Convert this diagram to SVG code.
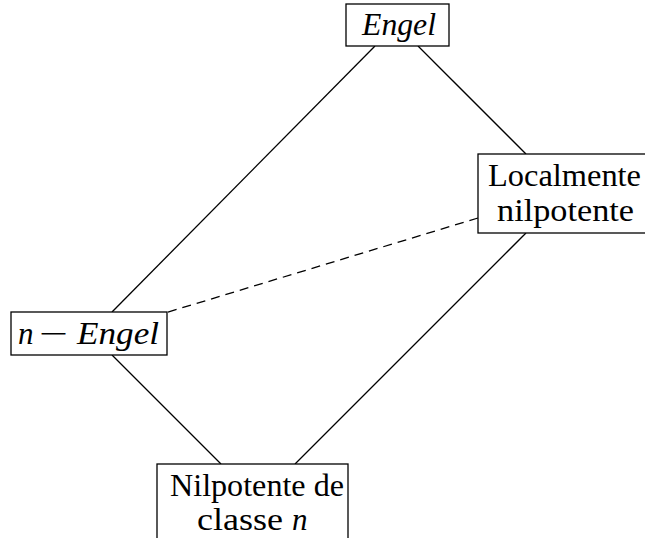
<svg xmlns="http://www.w3.org/2000/svg" width="645" height="538" viewBox="0 0 645 538">
<style>
rect{fill:#fff;stroke:#000;stroke-width:1.3}
text{font-family:"Liberation Serif","DejaVu Serif",serif;font-size:31px;fill:#000}
.it{font-style:italic}
line{stroke:#000;stroke-width:1.3}
.d{stroke-dasharray:9,6}
</style>
<rect x="0" y="0" width="645" height="538" style="fill:#fff;stroke:none"/>
<g id="connectors">
<line x1="375" y1="46" x2="112" y2="312"/>
<line x1="418" y1="46" x2="526" y2="154"/>
<line x1="526" y1="233" x2="295" y2="464"/>
<line x1="112" y1="355" x2="221" y2="464"/>
<line class="d" x1="478" y1="218" x2="165" y2="313"/>
</g>
<g id="engel">
<rect x="346" y="4" width="103" height="42"/>
<text x="362" y="35" class="it" textLength="74" lengthAdjust="spacingAndGlyphs">Engel</text>
</g>
<g id="localmente">
<rect x="478" y="154" width="170" height="79"/>
<text x="488" y="186" textLength="153" lengthAdjust="spacingAndGlyphs">Localmente</text>
<text x="497" y="221" textLength="137" lengthAdjust="spacingAndGlyphs">nilpotente</text>
</g>
<g id="nengel">
<rect x="11" y="312" width="156" height="43"/>
<text y="344"><tspan x="18" class="it">n</tspan><tspan x="39" textLength="29" lengthAdjust="spacingAndGlyphs">−</tspan><tspan x="77" class="it" textLength="82" lengthAdjust="spacingAndGlyphs">Engel</tspan></text>
</g>
<g id="nilpotente">
<rect x="157" y="464" width="191" height="80"/>
<text x="170" y="496" textLength="174" lengthAdjust="spacingAndGlyphs">Nilpotente de</text>
<text y="530"><tspan x="197" textLength="86" lengthAdjust="spacingAndGlyphs">classe</tspan><tspan x="292" class="it">n</tspan></text>
</g>
</svg>
